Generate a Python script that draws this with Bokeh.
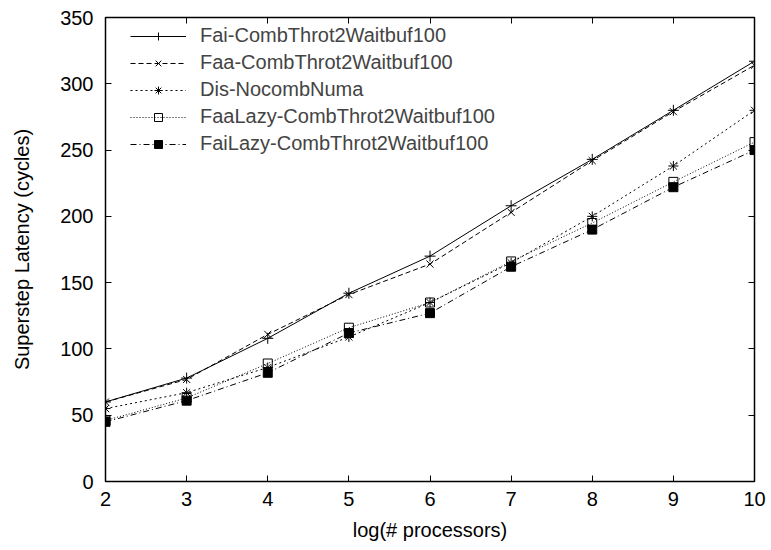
from bokeh.plotting import figure
from bokeh.models import LinearAxis, FixedTicker, CustomJSTickFormatter, Range1d, Legend
from bokeh.embed import file_html
from bokeh.resources import INLINE

# ---- data ----
procs_log = [2, 3, 4, 5, 6, 7, 8, 9, 10]
fai_comb = [60, 78, 108, 142, 170, 208, 243, 280, 317]
faa_comb = [60, 77, 111, 141, 164, 203, 242, 279, 314]
dis_nocomb = [55, 67, 86, 109, 135, 165, 200, 238, 280]
faa_lazy = [46, 63, 89, 116, 135, 166, 195, 226, 256]
fai_lazy = [45, 61, 82, 112, 127, 162, 190, 222, 250]

names = ["Fai-CombThrot2Waitbuf100", "Faa-CombThrot2Waitbuf100", "Dis-NocombNuma",
         "FaaLazy-CombThrot2Waitbuf100", "FaiLazy-CombThrot2Waitbuf100"]
x_ticks = [2, 3, 4, 5, 6, 7, 8, 9, 10]
y_ticks = [0, 50, 100, 150, 200, 250, 300, 350]

FONT = "Liberation Sans"
FS = "20px"

p = figure(width=771, height=550, output_backend="svg", toolbar_location=None,
           x_range=Range1d(2, 10), y_range=Range1d(0, 350),
           min_border_left=105, min_border_right=17, min_border_top=17, min_border_bottom=69,
           x_axis_label="log(# processors)", y_axis_label="Superstep Latency (cycles)")
p.grid.visible = False
p.outline_line_color = "black"
p.outline_line_width = 1.5
p.background_fill_color = "white"
p.border_fill_color = "white"

for ax in (p.xaxis[0], p.yaxis[0]):
    ax.major_tick_in = 6
    ax.major_tick_out = 0
    ax.minor_tick_line_color = None
    ax.axis_line_color = None
    ax.major_tick_line_color = "black"
    ax.major_label_text_font = FONT
    ax.major_label_text_font_size = FS
    ax.major_label_text_color = "black"
    ax.axis_label_text_font = FONT
    ax.axis_label_text_font_size = FS
    ax.axis_label_text_font_style = "normal"
    ax.axis_label_text_color = "black"
p.xaxis[0].ticker = FixedTicker(ticks=x_ticks)
p.yaxis[0].ticker = FixedTicker(ticks=y_ticks)
p.xaxis[0].major_label_standoff = 10
p.xaxis[0].axis_label_standoff = 10
p.yaxis[0].major_label_standoff = 12
p.yaxis[0].axis_label_standoff = 24

empty = CustomJSTickFormatter(code="return ''")
top = LinearAxis(ticker=FixedTicker(ticks=x_ticks), formatter=empty)
right = LinearAxis(ticker=FixedTicker(ticks=y_ticks), formatter=empty)
for ax in (top, right):
    ax.major_tick_in = 6
    ax.major_tick_out = 0
    ax.minor_tick_line_color = None
    ax.axis_line_color = None
    ax.major_label_standoff = 0
    ax.major_label_text_font_size = "1px"
p.add_layout(top, "above")
p.add_layout(right, "right")

series = [fai_comb, faa_comb, dis_nocomb, faa_lazy, fai_lazy]
dashes = ["solid", "5 3", "2 3", "1 2", "6 3 1 3"]
markers = ["cross", "x", "asterisk", "square", "square"]
fills = [None, None, None, None, "black"]
sizes = [11, 10, 10, 9, 9]

items = []
for ys, nm, d, mk, fc, sz in zip(series, names, dashes, markers, fills, sizes):
    r1 = p.line(procs_log, ys, line_color="black", line_width=1, line_dash=d)
    r2 = p.scatter(procs_log, ys, marker=mk, size=sz, line_color="black",
                   fill_color=fc, line_width=1)
    items.append((nm, [r1, r2]))

legend = Legend(items=items, location=(25, 326), margin=0, padding=8,
                border_line_color=None, background_fill_alpha=0,
                glyph_width=56, glyph_height=20, spacing=4, label_standoff=14,
                label_text_font=FONT, label_text_font_size=FS, label_height=20)
p.add_layout(legend)

open("out.html", "w").write(file_html(p, INLINE))
